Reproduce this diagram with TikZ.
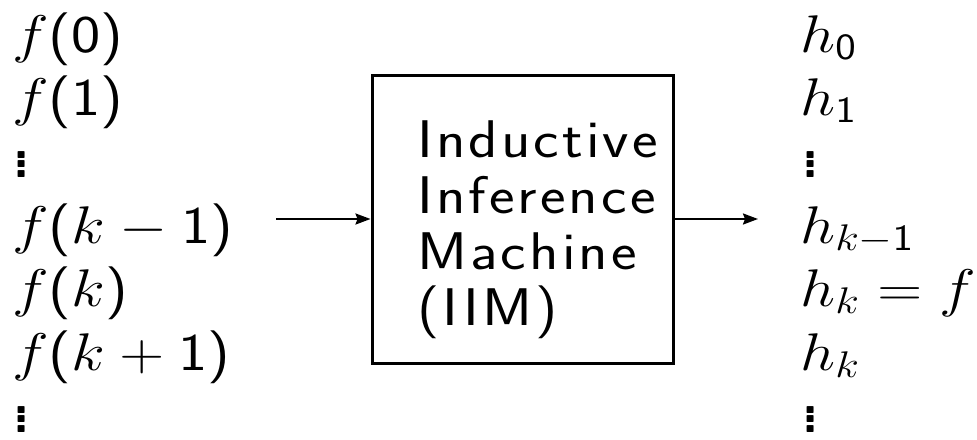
\documentclass[tikz,border=0pt]{standalone}
\usepackage{fix-cm}
\usepackage{graphicx}
\usepackage[no-math]{fontspec}
\usetikzlibrary{arrows.meta}
% sans-serif digits, parentheses and operators in formulas
\DeclareSymbolFont{operators}{OT1}{cmss}{m}{n}
\newfontfamily\boxfont{lmsans17-regular.otf}[LetterSpace=5]
% slightly widened lettering
\newcommand\wideform[1]{\scalebox{1.17}[1]{$#1$}}
\newcommand\widetext[1]{\scalebox{1.15}[1]{#1}}
% vertical ellipsis of square dots, without extra space above
\newcommand\dotcolumn{{\sffamily\bfseries\vbox{\baselineskip=4.75pt\lineskiplimit=-10pt\hbox{.}\hbox{.}\hbox{.}}}}
\tikzset{
  x=0.5pt, y=-0.5pt,
  seq/.style={anchor=base west, inner sep=0pt, font=\fontsize{26.5}{32}\selectfont},
  machine/.style={draw, line width=1.5pt, minimum width=150.5pt, minimum height=144pt, inner sep=0pt},
  machinetext/.style={anchor=north west, inner sep=0pt, align=left,
    font=\boxfont\fontsize{26.5}{28}\selectfont},
  flow/.style={line width=1.1pt, -{Stealth[length=7.5pt,width=5.5pt,inset=1pt]}}
}
\begin{document}
\begin{tikzpicture}
\useasboundingbox (0,0) rectangle (977,439);
% input sequence
\node[seq] (f0)  at (12,52)  {\wideform{f(0)}};
\node[seq] (f1)  at (12,115) {\wideform{f(1)}};
\node[seq] (fd1) at (13,177) {\dotcolumn};
\node[seq] (fk1) at (12,243) {\wideform{f(k-1)}};
\node[seq] (fk)  at (12,306) {\wideform{f(k)}};
\node[seq] (fkp) at (12,370) {\wideform{f(k+1)}};
\node[seq] (fd2) at (13,432) {\dotcolumn};
% the machine
\node[machine] (iim) at (522.5,219) {};
\node[machinetext] (iimtext) at (417,120)
  {\widetext{Inductive}\\\widetext{Inference}\\\widetext{Machine}\\\widetext{(IIM)}};
% output hypotheses
\node[seq] (h0)  at (800,52)  {\wideform{h_0}};
\node[seq] (h1)  at (800,115) {\wideform{h_1}};
\node[seq] (hd1) at (802,177) {\dotcolumn};
\node[seq] (hk1) at (800,243) {\wideform{h_{k-1}}};
\node[seq] (hk)  at (800,306) {\wideform{h_k = f}};
\node[seq] (hk2) at (800,370) {\wideform{h_k}};
\node[seq] (hd2) at (802,432) {\dotcolumn};
% connectors
\coordinate (in)  at (276,219);
\coordinate (out) at (758,219);
\draw[flow] (in) -- (iim.west);
\draw[flow] (iim.east) -- (out);
\end{tikzpicture}
\end{document}
